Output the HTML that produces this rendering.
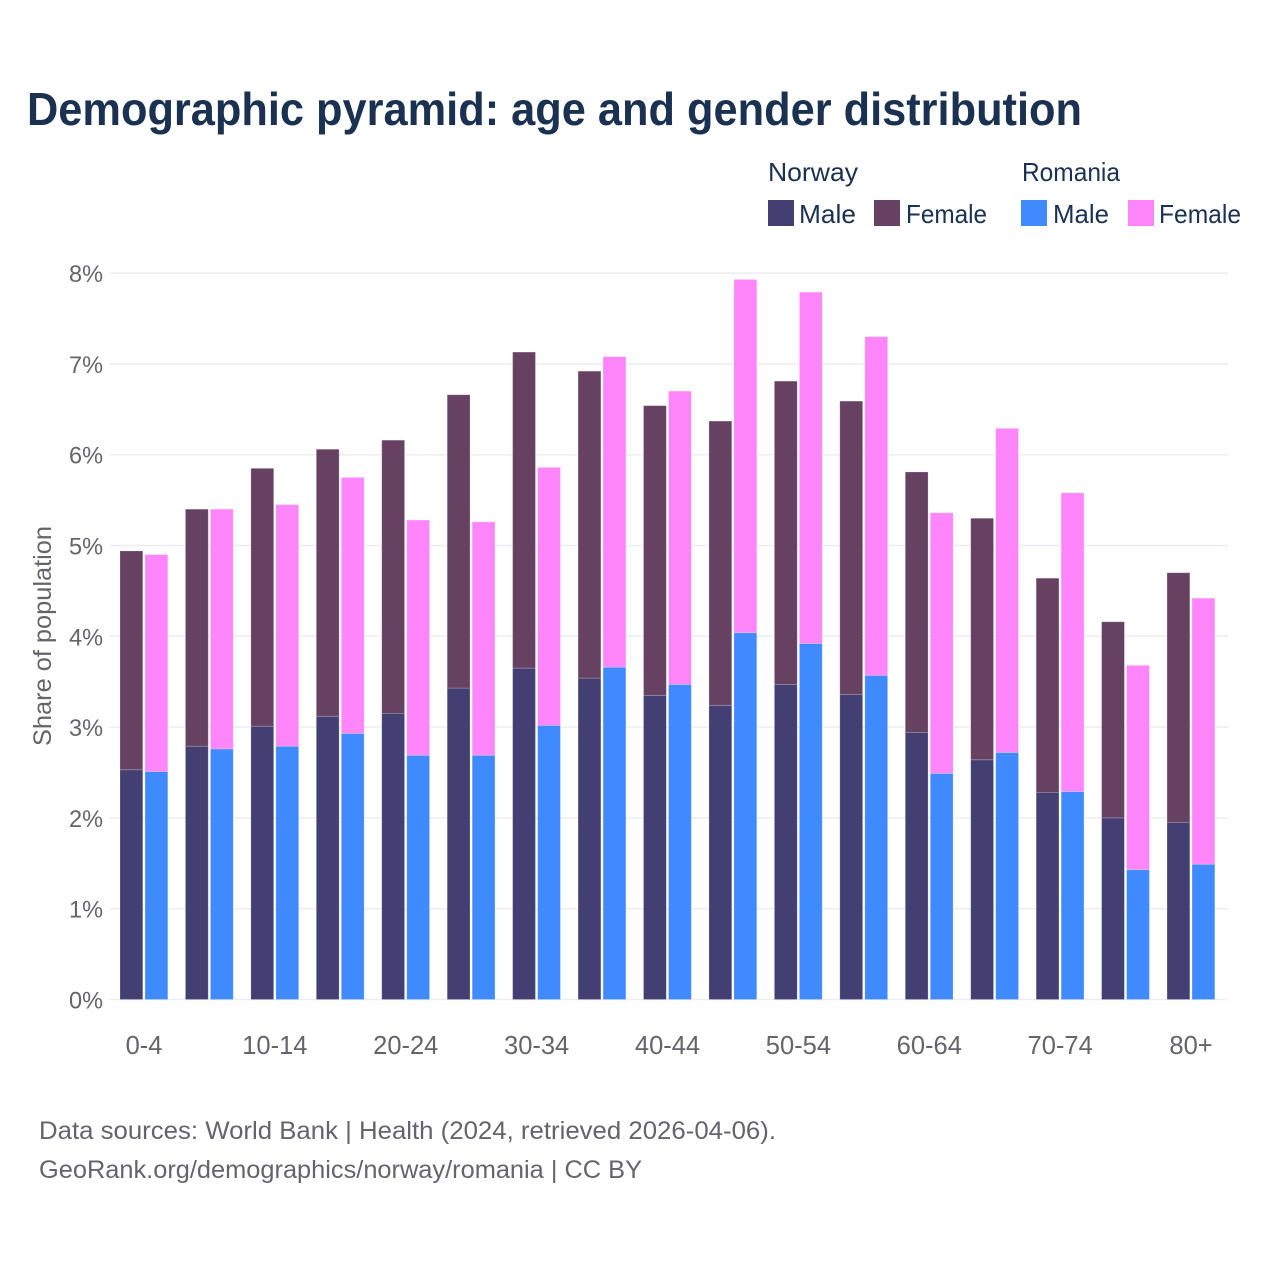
<!DOCTYPE html>
<html lang="en">
<head>
<meta charset="utf-8">
<title>Demographic pyramid: age and gender distribution</title>
<style>
  html, body { margin: 0; padding: 0; background: #fff; }
  svg { display: block; font-family: "Liberation Sans", sans-serif; }
  .tick { fill: #65646c; font-size: 24px; }
  .xtick { fill: #65646c; font-size: 25.5px; }
  .legend { fill: #1a3152; font-size: 26px; }
  .source { fill: #65646c; font-size: 25px; }
</style>
</head>
<body>
<svg id="chart" xmlns="http://www.w3.org/2000/svg" width="1280" height="1280" viewBox="0 0 1280 1280">
  <rect x="0" y="0" width="1280" height="1280" fill="#ffffff"/>
  <text x="27" y="125" font-size="46" font-weight="700" fill="#1a3152" textLength="1055" lengthAdjust="spacingAndGlyphs">Demographic pyramid: age and gender distribution</text>

  <g>
    <text class="legend" x="768" y="181" textLength="90" lengthAdjust="spacingAndGlyphs">Norway</text>
    <text class="legend" x="1022" y="181" textLength="98" lengthAdjust="spacingAndGlyphs">Romania</text>
    <rect x="768" y="200" width="26" height="26" fill="#433f72"/>
    <text class="legend" x="799" y="223" textLength="57" lengthAdjust="spacingAndGlyphs">Male</text>
    <rect x="874" y="200" width="26" height="26" fill="#664162"/>
    <text class="legend" x="906" y="223" textLength="81" lengthAdjust="spacingAndGlyphs">Female</text>
    <rect x="1021" y="200" width="26" height="26" fill="#408aff"/>
    <text class="legend" x="1053" y="223" textLength="56" lengthAdjust="spacingAndGlyphs">Male</text>
    <rect x="1128" y="200" width="26" height="26" fill="#ff85fb"/>
    <text class="legend" x="1159" y="223" textLength="82" lengthAdjust="spacingAndGlyphs">Female</text>
  </g>

  <g id="grid"></g>
  <g id="y-axis"></g>
  <g id="bars"></g>
  <g id="x-axis"></g>

  <text x="0" y="0" transform="translate(51,746) rotate(-90)" font-size="25" fill="#65646c" textLength="220" lengthAdjust="spacingAndGlyphs">Share of population</text>

  <text class="source" x="39" y="1139" textLength="737" lengthAdjust="spacingAndGlyphs">Data sources: World Bank | Health (2024, retrieved 2026-04-06).</text>
  <text class="source" x="39" y="1178" textLength="603" lengthAdjust="spacingAndGlyphs">GeoRank.org/demographics/norway/romania | CC BY</text>
</svg>

<script>
const categories = ['0-4', '5-9', '10-14', '15-19', '20-24', '25-29', '30-34', '35-39', '40-44', '45-49', '50-54', '55-59', '60-64', '65-69', '70-74', '75-79', '80+'];
const shownCategories = ['0-4', '10-14', '20-24', '30-34', '40-44', '50-54', '60-64', '70-74', '80+'];
const norwayMale = [2.53, 2.79, 3.01, 3.12, 3.15, 3.43, 3.65, 3.54, 3.35, 3.24, 3.47, 3.36, 2.94, 2.64, 2.28, 2.00, 1.95];
const norwayFemale = [2.41, 2.61, 2.84, 2.94, 3.01, 3.23, 3.48, 3.38, 3.19, 3.13, 3.34, 3.23, 2.87, 2.66, 2.36, 2.16, 2.75];
const romaniaMale = [2.51, 2.76, 2.79, 2.93, 2.69, 2.69, 3.02, 3.66, 3.47, 4.04, 3.92, 3.57, 2.49, 2.72, 2.29, 1.43, 1.49];
const romaniaFemale = [2.39, 2.64, 2.66, 2.82, 2.59, 2.57, 2.84, 3.42, 3.23, 3.89, 3.87, 3.73, 2.87, 3.57, 3.29, 2.25, 2.93];
const yTicks = [0, 1, 2, 3, 4, 5, 6, 7, 8];

const SVG_NS = 'http://www.w3.org/2000/svg';
const plotLeft = 110, plotRight = 1228;
const y0 = 999.5, pxPerUnit = 90.8;
const groupStart = 120, groupStep = 65.44, barWidth = 22.8, barGap = 25;

function yScale(v) { return y0 - v * pxPerUnit; }
function xScale(i) { return groupStart + i * groupStep; }

function make(tag, attrs, parent) {
  const el = document.createElementNS(SVG_NS, tag);
  for (const k in attrs) el.setAttribute(k, attrs[k]);
  parent.appendChild(el);
  return el;
}

const gridG = document.getElementById('grid');
const yAxisG = document.getElementById('y-axis');
const xAxisG = document.getElementById('x-axis');
const barsG = document.getElementById('bars');

yTicks.forEach(function (t) {
  const line = make('line', { x1: plotLeft, x2: plotRight, y1: yScale(t), y2: yScale(t), stroke: '#eeedf2', 'stroke-width': 1.5 }, gridG);
  
  
  const label = make('text', { x: 103, y: yScale(t) + 9, 'text-anchor': 'end', class: 'tick', textLength: 34, lengthAdjust: 'spacingAndGlyphs' }, yAxisG);
  label.textContent = t + '%';
  
  
});

function drawBar(x, base, value, fill, parent) {
  const top = yScale(base + value);
  const h = yScale(base) - top;
  const r = make('rect', { x: x, y: top, width: barWidth, height: h, fill: fill, stroke: 'rgba(255,255,255,0.25)', 'stroke-width': 0.8 }, parent);
  return r;
}

categories.forEach(function (cat, i) {
  const x = xScale(i);

  const nm = drawBar(x, 0, norwayMale[i], '#433f72', barsG);
  
  
  const nf = drawBar(x, norwayMale[i], norwayFemale[i], '#664162', barsG);
  
  
  const rm = drawBar(x + barGap, 0, romaniaMale[i], '#408aff', barsG);
  
  
  const rf = drawBar(x + barGap, romaniaMale[i], romaniaFemale[i], '#ff85fb', barsG);
  
  

  if (shownCategories.indexOf(cat) !== -1) {
    const label = make('text', { x: x + 24, y: 1054, 'text-anchor': 'middle', class: 'xtick' }, xAxisG);
    label.textContent = cat;
    
    
  }
});
</script>
</body>
</html>
